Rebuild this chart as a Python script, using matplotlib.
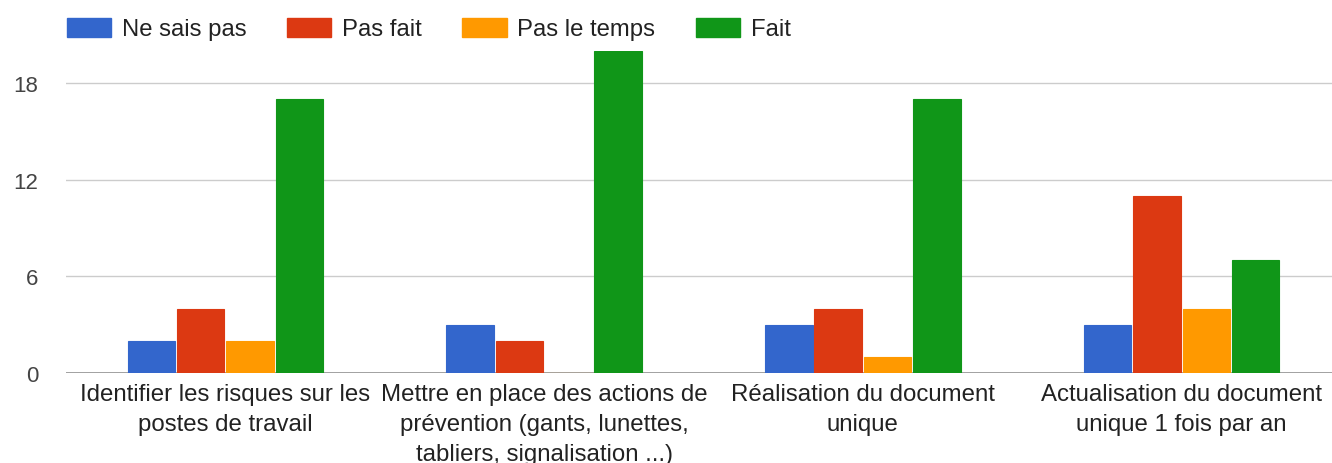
import numpy as np
import matplotlib.pyplot as plt
from matplotlib.patches import Patch

plt.rcParams['font.family'] = ['Liberation Sans', 'DejaVu Sans']

categories = ["Identifier les risques sur les\npostes de travail",
              "Mettre en place des actions de\nprévention (gants, lunettes,\ntabliers, signalisation ...)",
              "Réalisation du document\nunique",
              "Actualisation du document\nunique 1 fois par an"]
series_names = ["Ne sais pas", "Pas fait", "Pas le temps", "Fait"]
ne_sais_pas = [2, 3, 3, 3]
pas_fait = [4, 2, 4, 11]
pas_le_temps = [2, 0, 1, 4]
fait = [17, 20, 17, 7]
colors = ["#3366cc", "#dc3912", "#ff9900", "#109618"]

fig = plt.figure(figsize=(13.32, 4.64), dpi=100)
ax = fig.add_axes([66/1332, 90/464, 1275/1332, 322/464])

x = np.arange(len(categories))
w = 0.155
for i, vals in enumerate([ne_sais_pas, pas_fait, pas_le_temps, fait]):
    ax.bar(x + (i - 1.5) * w, vals, width=w - 0.006, color=colors[i],
           edgecolor=colors[i], linewidth=0.8, zorder=3)

ax.set_xlim(-0.5, 3.5)
ax.set_ylim(0, 20)
ax.set_yticks([0, 6, 12, 18])
ax.grid(axis='y', color='#cccccc', linewidth=1, zorder=0)
ax.axhline(0, color='#999999', linewidth=2, zorder=2.5)
for s in ax.spines.values():
    s.set_visible(False)
ax.tick_params(axis='y', length=0, labelsize=16, colors='#444444', pad=20)
ax.tick_params(axis='x', length=0, labelsize=17.3, colors='#222222', pad=7)
ax.set_xticks(x)
ax.set_xticklabels(categories, linespacing=1.47)

handles = [Patch(facecolor=c, edgecolor=c) for c in colors]
fig.legend(handles, series_names, loc='center left', bbox_to_anchor=(67/1332, 1 - 30/464),
           ncol=4, frameon=False, fontsize=17.2, handlelength=1.85, handleheight=0.85,
           columnspacing=1.7, handletextpad=0.45, borderpad=0, borderaxespad=0,
           labelcolor='#222222')

fig.savefig("out.png", dpi=100)
